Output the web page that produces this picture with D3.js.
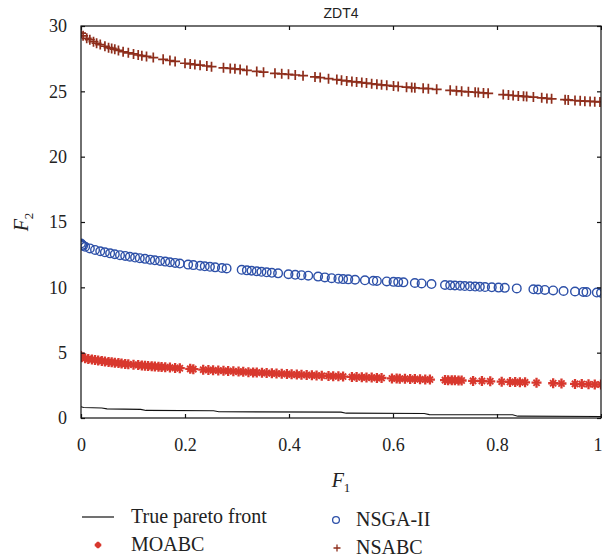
<!DOCTYPE html>
<html>
<head>
<meta charset="utf-8">
<script src="https://cdn.jsdelivr.net/npm/d3@7"></script>
<style>
body { margin: 0; background: #fff; }
text { font-family: "Liberation Serif", serif; fill: #222; }
</style>
</head>
<body>
<div id="chart"></div>
<script>
// ZDT4 - values
var xTicks = [0, 0.2, 0.4, 0.6, 0.8, 1];
var yTicks = [0, 5, 10, 15, 20, 25, 30];

var trueF1 = [0, 0.005, 0.04, 0.05, 0.115, 0.125, 0.255, 0.265, 0.5, 0.51, 0.66, 0.67, 0.83, 0.84, 1.0];
var trueF2 = [0.86, 0.8, 0.77, 0.7, 0.66, 0.58, 0.55, 0.48, 0.45, 0.37, 0.35, 0.26, 0.25, 0.14, 0.12];

var nsabcF1 = [0, 0.004, 0.011, 0.017, 0.024, 0.030, 0.037, 0.046, 0.053, 0.059, 0.065, 0.072, 0.081, 0.091, 0.101, 0.110, 0.117, 0.126, 0.139, 0.158, 0.171, 0.181, 0.200, 0.210, 0.219, 0.229, 0.242, 0.251, 0.274, 0.287, 0.296, 0.306, 0.319, 0.338, 0.351, 0.373, 0.386, 0.399, 0.412, 0.427, 0.450, 0.460, 0.476, 0.492, 0.501, 0.511, 0.521, 0.530, 0.540, 0.549, 0.559, 0.569, 0.578, 0.588, 0.601, 0.610, 0.626, 0.636, 0.642, 0.658, 0.668, 0.684, 0.710, 0.722, 0.732, 0.745, 0.758, 0.764, 0.774, 0.783, 0.812, 0.822, 0.831, 0.841, 0.851, 0.857, 0.870, 0.886, 0.896, 0.905, 0.931, 0.937, 0.950, 0.960, 0.969, 0.979, 0.988, 0.998];
var nsabcF2 = [29.45, 29.25, 29.06, 28.95, 28.8, 28.68, 28.58, 28.45, 28.34, 28.28, 28.22, 28.13, 28.03, 27.95, 27.86, 27.78, 27.73, 27.67, 27.58, 27.45, 27.36, 27.29, 27.15, 27.1, 27.05, 27.0, 26.94, 26.89, 26.8, 26.75, 26.72, 26.68, 26.6, 26.52, 26.47, 26.38, 26.34, 26.3, 26.25, 26.2, 26.1, 26.05, 25.97, 25.9, 25.85, 25.8, 25.75, 25.72, 25.67, 25.63, 25.58, 25.54, 25.5, 25.46, 25.4, 25.37, 25.32, 25.29, 25.27, 25.23, 25.2, 25.15, 25.08, 25.04, 25.0, 24.96, 24.93, 24.91, 24.88, 24.85, 24.75, 24.72, 24.68, 24.65, 24.62, 24.6, 24.56, 24.5, 24.46, 24.43, 24.36, 24.34, 24.3, 24.27, 24.25, 24.23, 24.21, 24.19];

var nsgaF1 = [0, 0.002, 0.004, 0.008, 0.017, 0.027, 0.037, 0.046, 0.056, 0.065, 0.075, 0.085, 0.094, 0.104, 0.113, 0.123, 0.133, 0.142, 0.152, 0.162, 0.171, 0.181, 0.190, 0.206, 0.216, 0.229, 0.238, 0.248, 0.258, 0.271, 0.280, 0.309, 0.319, 0.328, 0.338, 0.347, 0.357, 0.367, 0.379, 0.399, 0.412, 0.424, 0.437, 0.456, 0.469, 0.482, 0.495, 0.504, 0.514, 0.527, 0.546, 0.562, 0.569, 0.588, 0.601, 0.610, 0.620, 0.642, 0.655, 0.674, 0.700, 0.710, 0.719, 0.729, 0.738, 0.748, 0.758, 0.767, 0.777, 0.790, 0.803, 0.815, 0.838, 0.870, 0.879, 0.892, 0.908, 0.928, 0.950, 0.966, 0.972, 0.992, 1.0];
var nsgaF2 = [13.35, 13.25, 13.18, 13.1, 12.98, 12.86, 12.76, 12.68, 12.6, 12.53, 12.46, 12.4, 12.34, 12.28, 12.23, 12.18, 12.12, 12.07, 12.02, 11.97, 11.92, 11.87, 11.82, 11.74, 11.7, 11.65, 11.61, 11.57, 11.53, 11.48, 11.45, 11.34, 11.3, 11.27, 11.23, 11.19, 11.15, 11.11, 11.07, 11.0, 10.96, 10.93, 10.89, 10.82, 10.76, 10.7, 10.66, 10.63, 10.61, 10.58, 10.54, 10.5, 10.49, 10.45, 10.42, 10.4, 10.38, 10.33, 10.3, 10.25, 10.18, 10.16, 10.14, 10.12, 10.1, 10.08, 10.06, 10.04, 10.02, 10.0, 9.98, 9.96, 9.92, 9.85, 9.83, 9.8, 9.76, 9.72, 9.68, 9.65, 9.64, 9.6, 9.58];

var moabcF1 = [0, 0.001, 0.008, 0.014, 0.021, 0.027, 0.033, 0.040, 0.046, 0.053, 0.059, 0.065, 0.072, 0.078, 0.085, 0.091, 0.101, 0.110, 0.117, 0.123, 0.129, 0.136, 0.142, 0.149, 0.155, 0.162, 0.171, 0.181, 0.190, 0.210, 0.216, 0.235, 0.245, 0.254, 0.264, 0.274, 0.283, 0.293, 0.303, 0.312, 0.322, 0.331, 0.338, 0.348, 0.357, 0.367, 0.376, 0.386, 0.396, 0.405, 0.415, 0.424, 0.434, 0.444, 0.453, 0.463, 0.476, 0.485, 0.495, 0.504, 0.521, 0.530, 0.540, 0.549, 0.559, 0.569, 0.578, 0.598, 0.607, 0.613, 0.623, 0.633, 0.642, 0.652, 0.662, 0.671, 0.700, 0.706, 0.713, 0.719, 0.726, 0.732, 0.754, 0.771, 0.787, 0.809, 0.825, 0.835, 0.844, 0.854, 0.876, 0.908, 0.924, 0.950, 0.963, 0.976, 0.988, 1.0];
var moabcF2 = [4.75, 4.65, 4.57, 4.52, 4.48, 4.44, 4.41, 4.37, 4.33, 4.29, 4.26, 4.23, 4.2, 4.17, 4.14, 4.12, 4.08, 4.05, 4.02, 4.0, 3.98, 3.96, 3.94, 3.92, 3.91, 3.89, 3.86, 3.83, 3.81, 3.76, 3.74, 3.7, 3.67, 3.65, 3.63, 3.61, 3.59, 3.57, 3.55, 3.53, 3.51, 3.49, 3.48, 3.46, 3.44, 3.42, 3.4, 3.38, 3.36, 3.34, 3.32, 3.31, 3.29, 3.27, 3.26, 3.24, 3.22, 3.2, 3.19, 3.17, 3.14, 3.13, 3.12, 3.1, 3.09, 3.07, 3.06, 3.03, 3.02, 3.01, 3.0, 2.99, 2.98, 2.96, 2.95, 2.94, 2.9, 2.89, 2.89, 2.88, 2.87, 2.87, 2.84, 2.83, 2.81, 2.78, 2.76, 2.75, 2.74, 2.73, 2.7, 2.66, 2.64, 2.61, 2.6, 2.58, 2.57, 2.56];

var colNsabc = "#8e2e1c";
var colMoabc = "#d8382e";
var colNsga = "#2d50a8";
var serif = "'Liberation Serif', serif";

var W = 602, H = 560;
var margin = {left: 81, top: 26, right: 1, bottom: 142};
var w = W - margin.left - margin.right;
var h = H - margin.top - margin.bottom;

var svg = d3.select("#chart").append("svg")
    .attr("width", W)
    .attr("height", H);

var g = svg.append("g")
    .attr("transform", "translate(" + margin.left + "," + margin.top + ")");

var x = d3.scaleLinear().domain([0, 1]).range([0, w]);
var y = d3.scaleLinear().domain([0, 30]).range([h, 0]);

g.append("clipPath").attr("id", "clip")
  .append("rect").attr("width", w).attr("height", h);

var plot = g.append("g").attr("clip-path", "url(#clip)");

function zip(a, b) { return a.map(function(v, i){ return [v, b[i]]; }); }

// true front
plot.append("path")
    .datum(zip(trueF1, trueF2))
    .attr("fill", "none")
    .attr("stroke", "#111")
    .attr("stroke-width", 1.1)
    .attr("d", d3.line().x(d => x(d[0])).y(d => y(d[1])));

// MOABC markers: thick plus + x
function moabcMark(sel, s) {
    sel.append("path").attr("d", "M" + (-s) + ",0H" + s + "M0," + (-s) + "V" + s)
        .attr("stroke", colMoabc).attr("stroke-width", 2.3);
    var k = s * 0.62;
    sel.append("path").attr("d", "M" + (-k) + "," + (-k) + "L" + k + "," + k + "M" + (-k) + "," + k + "L" + k + "," + (-k))
        .attr("stroke", colMoabc).attr("stroke-width", 1.9);
}
plot.append("g").selectAll("g")
    .data(zip(moabcF1, moabcF2)).enter().append("g")
    .attr("transform", d => "translate(" + x(d[0]) + "," + y(d[1]) + ")")
    .each(function(){ moabcMark(d3.select(this), 5); });

// NSGA-II circles
plot.append("g").selectAll("circle")
    .data(zip(nsgaF1, nsgaF2)).enter().append("circle")
    .attr("cx", d => x(d[0]))
    .attr("cy", d => y(d[1]))
    .attr("r", 4.3)
    .attr("fill", "none")
    .attr("stroke", colNsga)
    .attr("stroke-width", 1.4);

// NSABC plus markers
plot.append("g").selectAll("path")
    .data(zip(nsabcF1, nsabcF2)).enter().append("path")
    .attr("transform", d => "translate(" + x(d[0]) + "," + y(d[1]) + ")")
    .attr("d", "M-5,0H5M0,-5V5")
    .attr("stroke", colNsabc)
    .attr("stroke-width", 1.7);

// frame + inward ticks
g.append("rect").attr("width", w).attr("height", h)
    .attr("fill", "none").attr("stroke", "#111").attr("stroke-width", 1.2);

var tk = 4;
var xAxis = g.append("g").attr("transform", "translate(0," + h + ")")
    .call(d3.axisBottom(x).tickValues(xTicks).tickSize(-tk).tickPadding(20).tickFormat(d3.format("~g")))
    .call(a => a.select(".domain").remove());
// last label sits on the right edge; keep it inside the page
xAxis.selectAll(".tick text").filter(d => d === 1).attr("text-anchor", "end").attr("dx", 1);
g.append("g")
    .call(d3.axisTop(x).tickValues(xTicks).tickSize(-tk).tickFormat(""))
    .call(a => a.select(".domain").remove());
g.append("g")
    .call(d3.axisLeft(y).tickValues(yTicks).tickSize(-tk).tickPadding(14))
    .call(a => a.select(".domain").remove());
g.append("g").attr("transform", "translate(" + w + ",0)")
    .call(d3.axisRight(y).tickValues(yTicks).tickSize(-tk).tickFormat(""))
    .call(a => a.select(".domain").remove());

g.selectAll(".tick line").attr("stroke", "#111").attr("stroke-width", 1.2);
g.selectAll("g").filter(function(){ return this.getAttribute("font-family"); })
    .attr("font-family", serif).attr("font-size", 18);
g.selectAll(".tick text")
    .attr("font-family", serif)
    .attr("font-size", 18)
    .attr("fill", "#222");

// title
svg.append("text")
    .attr("x", margin.left + w / 2).attr("y", 18)
    .attr("text-anchor", "middle")
    .style("font-family", "'Liberation Sans', sans-serif")
    .style("font-size", "14px")
    .text("ZDT4");

// axis labels
var xl = svg.append("text")
    .attr("x", margin.left + w / 2).attr("y", 487)
    .attr("text-anchor", "middle")
    .style("font-size", "20px");
xl.append("tspan").style("font-style", "italic").text("F");
xl.append("tspan").attr("dy", 5).style("font-size", "13px").text("1");

var yl = svg.append("text")
    .attr("transform", "translate(28," + (margin.top + h / 2) + ") rotate(-90)")
    .attr("text-anchor", "middle")
    .style("font-size", "20px");
yl.append("tspan").style("font-style", "italic").text("F");
yl.append("tspan").attr("dy", 5).style("font-size", "13px").text("2");

// legend
var lg = svg.append("g").style("font-size", "20px");
lg.append("line").attr("x1", 82).attr("x2", 114).attr("y1", 517).attr("y2", 517)
    .attr("stroke", "#111").attr("stroke-width", 1.2);
lg.append("text").attr("x", 131).attr("y", 523).text("True pareto front");
lg.append("circle").attr("cx", 336).attr("cy", 520).attr("r", 3.4)
    .attr("fill", "none").attr("stroke", colNsga).attr("stroke-width", 1.3);
lg.append("text").attr("x", 356).attr("y", 526).text("NSGA-II");
var mk = lg.append("g").attr("transform", "translate(98,545)");
moabcMark(mk, 3.3);
lg.append("text").attr("x", 131).attr("y", 551).text("MOABC");
lg.append("path").attr("transform", "translate(337,548)")
    .attr("d", "M-3.5,0H3.5M0,-3.5V3.5")
    .attr("stroke", colNsabc).attr("stroke-width", 1.3);
lg.append("text").attr("x", 356).attr("y", 554).text("NSABC");
</script>
</body>
</html>
